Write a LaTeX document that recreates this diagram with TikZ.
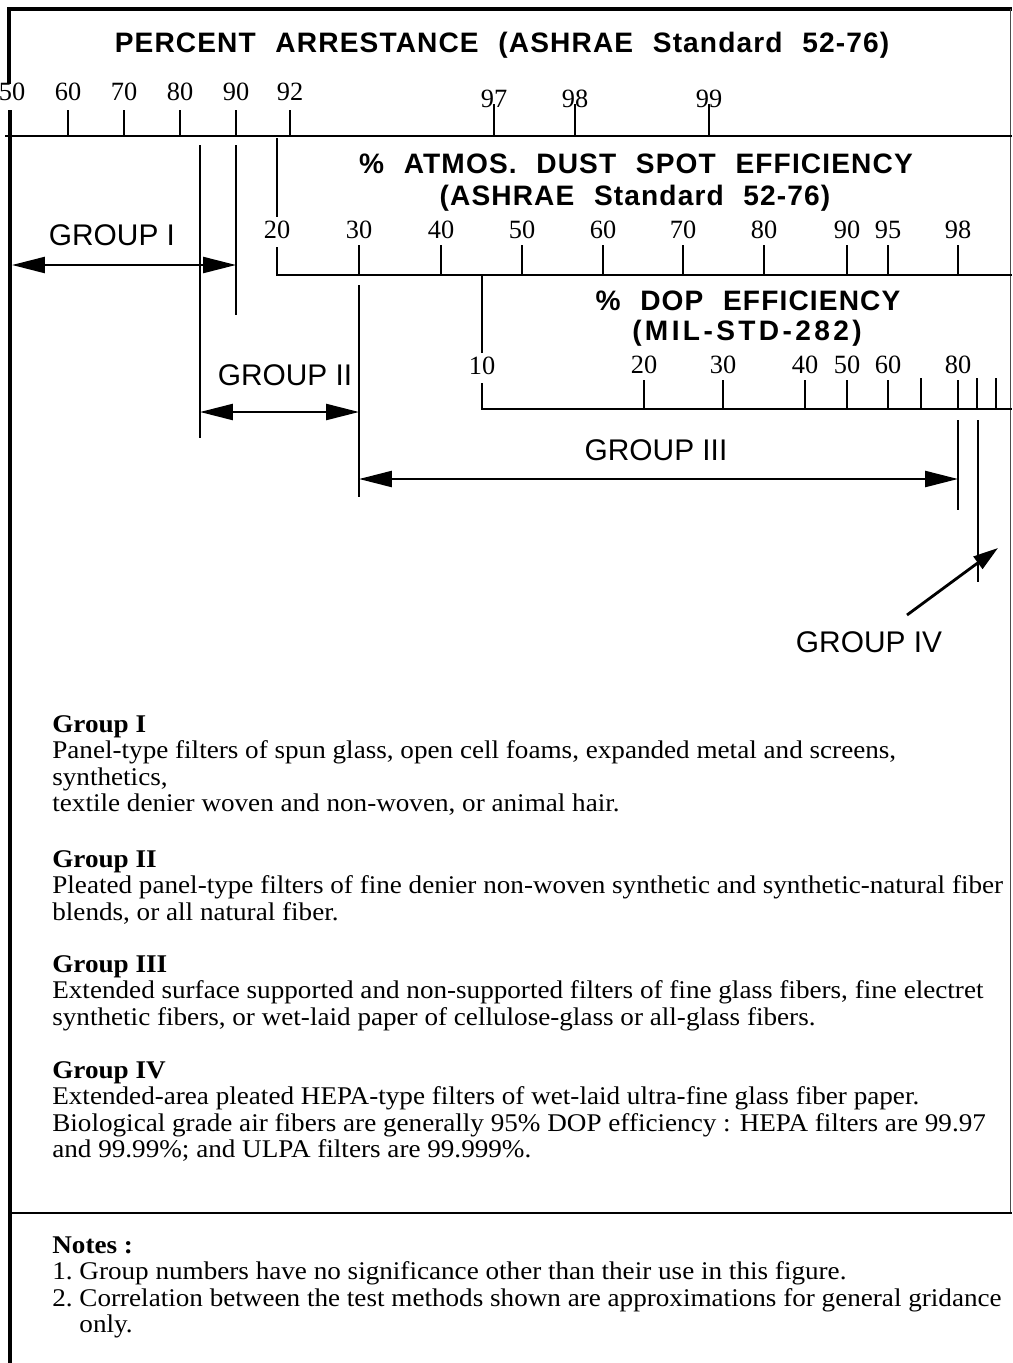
\documentclass[tikz,border=0pt]{standalone}
\usepackage{fontspec}
\setmainfont{Liberation Serif}
\setsansfont{Liberation Sans}
\newfontfamily\headfont[LetterSpace=4]{Liberation Sans}
\newfontfamily\bodyfont[FakeStretch=1.065]{Liberation Serif}
\usetikzlibrary{arrows.meta}
\newcommand{\wgap}{\hspace{0.7em}}
\tikzset{
  frame/.style={line width=2.2pt},
  rule/.style={line width=1.6pt},
  tick/.style={line width=1.6pt},
  thinedge/.style={line width=0.5pt, black!70},
  dimarrow/.style={line width=1.4pt, {Triangle[length=0.66cm,width=0.32cm]}-{Triangle[length=0.66cm,width=0.32cm]}},
  ptarrow/.style={line width=1.6pt, -{Triangle[length=0.5cm,width=0.3cm]}},
  num/.style={font=\fontsize{15}{17}\selectfont, inner sep=0pt, anchor=base},
  head/.style={font=\headfont\bfseries\fontsize{16}{19}\selectfont, inner sep=0pt, anchor=base},
  grp/.style={font=\sffamily\fontsize{17}{20}\selectfont, inner sep=0pt, anchor=base},
  txt/.style={font=\bodyfont\fontsize{14.5}{15.1}\selectfont, inner sep=0pt, anchor=base west},
}
\begin{document}
\begin{tikzpicture}[x=0.02cm, y=-0.02cm]
  \useasboundingbox (0,0) rectangle (1012,1363);
  % frame
  \draw [frame] (9,84) -- (9,9) -- (1012,9);
  \draw [frame] (10,110) -- (10,1363);
  \draw [thinedge] (1010,9) -- (1010,1213);
  \draw [rule] (10,1213) -- (1012,1213);

  % arrestance scale
  \node [head] (tarr) at (502,52) {PERCENT\wgap ARRESTANCE\wgap (ASHRAE\wgap Standard\wgap 52-76)};
  \draw [rule] (5,136) -- (1012,136);
  \node [num] (a50) at (12,100) {50};
  \foreach \p/\v in {68/60, 124/70, 180/80, 236/90, 290/92}{
    \draw [tick] (\p,110) -- (\p,136);
    \node [num] (a\v) at (\p,100) {\v};
  }
  \foreach \p/\v in {494/97, 575/98, 709/99}{
    \draw [tick] (\p,104) -- (\p,136);
    \node [num] (a\v) at (\p,107) {\v};
  }

  % dust spot scale
  \node [head] (tdust) at (636,173) {\%\wgap ATMOS.\wgap DUST\wgap SPOT\wgap EFFICIENCY};
  \node [head] (tdust2) at (635,205) {(ASHRAE\wgap Standard\wgap 52-76)};
  \draw [rule] (277,138) -- (277,217);
  \node [num] (d20) at (277,238) {20};
  \draw [rule] (277,247) -- (277,275) -- (1012,275);
  \foreach \p/\v in {359/30, 441/40, 522/50, 603/60, 683/70, 764/80, 847/90, 888/95, 958/98}{
    \draw [tick] (\p,245) -- (\p,275);
    \node [num] (d\v) at (\p,238) {\v};
  }

  % dop scale
  \node [head] (tdop) at (748,310) {\%\wgap DOP\wgap EFFICIENCY};
  \node [head, font=\headfont\bfseries\fontsize{16}{19}\selectfont\addfontfeature{LetterSpace=12}] (tdop2) at (747,340) {(MIL-STD-282)};
  \draw [rule] (482,276) -- (482,353);
  \node [num] (p10) at (482,374) {10};
  \draw [rule] (482,383) -- (482,409) -- (1012,409);
  \foreach \p/\v in {644/20, 723/30, 805/40, 847/50, 888/60, 958/80}{
    \draw [tick] (\p,380) -- (\p,409);
    \node [num] (p\v) at (\p,373) {\v};
  }
  \foreach \p in {921, 977, 996}{
    \draw [tick] (\p,378) -- (\p,409);
  }

  % group limits
  \draw [rule] (200,145) -- (200,438);
  \draw [rule] (236,145) -- (236,315);
  \draw [rule] (359,285) -- (359,497);
  \draw [rule] (958,420) -- (958,510);
  \draw [rule] (978,420) -- (978,582);

  % group arrows
  \coordinate (g1l) at (12,265);\coordinate (g1r) at (236,265);
  \coordinate (g2l) at (200,412);\coordinate (g2r) at (359,412);
  \coordinate (g3l) at (359,479);\coordinate (g3r) at (958,479);
  \coordinate (g4s) at (907,615);\coordinate (g4e) at (998,548);
  \draw [dimarrow] (g1l) -- (g1r);
  \draw [dimarrow] (g2l) -- (g2r);
  \draw [dimarrow] (g3l) -- (g3r);
  \draw [ptarrow] (g4s) -- (g4e);
  \node [grp] (lg1) at (112,245) {GROUP I};
  \node [grp] (lg2) at (285,385) {GROUP II};
  \node [grp] (lg3) at (656,460) {GROUP III};
  \node [grp] (lg4) at (869,652) {GROUP IV};

  % descriptions
  \node [txt] (d1) at (52,732) {\begin{tabular}[t]{@{}l@{}}
    \textbf{Group I}\\
    Panel-type filters of spun glass, open cell foams, expanded metal and screens,\\
    synthetics,\\
    textile denier woven and non-woven, or animal hair.
  \end{tabular}};
  \node [txt] (d2) at (52,867) {\begin{tabular}[t]{@{}l@{}}
    \textbf{Group II}\\
    Pleated panel-type filters of fine denier non-woven synthetic and synthetic-natural fiber\\
    blends, or all natural fiber.
  \end{tabular}};
  \node [txt] (d3) at (52,972) {\begin{tabular}[t]{@{}l@{}}
    \textbf{Group III}\\
    Extended surface supported and non-supported filters of fine glass fibers, fine electret\\
    synthetic fibers, or wet-laid paper of cellulose-glass or all-glass fibers.
  \end{tabular}};
  \node [txt] (d4) at (52,1078) {\begin{tabular}[t]{@{}l@{}}
    \textbf{Group IV}\\
    Extended-area pleated HEPA-type filters of wet-laid ultra-fine glass fiber paper.\\
    Biological grade air fibers are generally 95\% DOP efficiency : HEPA filters are 99.97\\
    and 99.99\%; and ULPA filters are 99.999\%.
  \end{tabular}};

  % notes
  \node [txt] (nt) at (52,1253) {\begin{tabular}[t]{@{}l@{}}
    \textbf{Notes :}\\
    1.\ Group numbers have no significance other than their use in this figure.\\
    2.\ Correlation between the test methods shown are approximations for general gridance\\
    \hphantom{2.\ }only.
  \end{tabular}};
\end{tikzpicture}
\end{document}
